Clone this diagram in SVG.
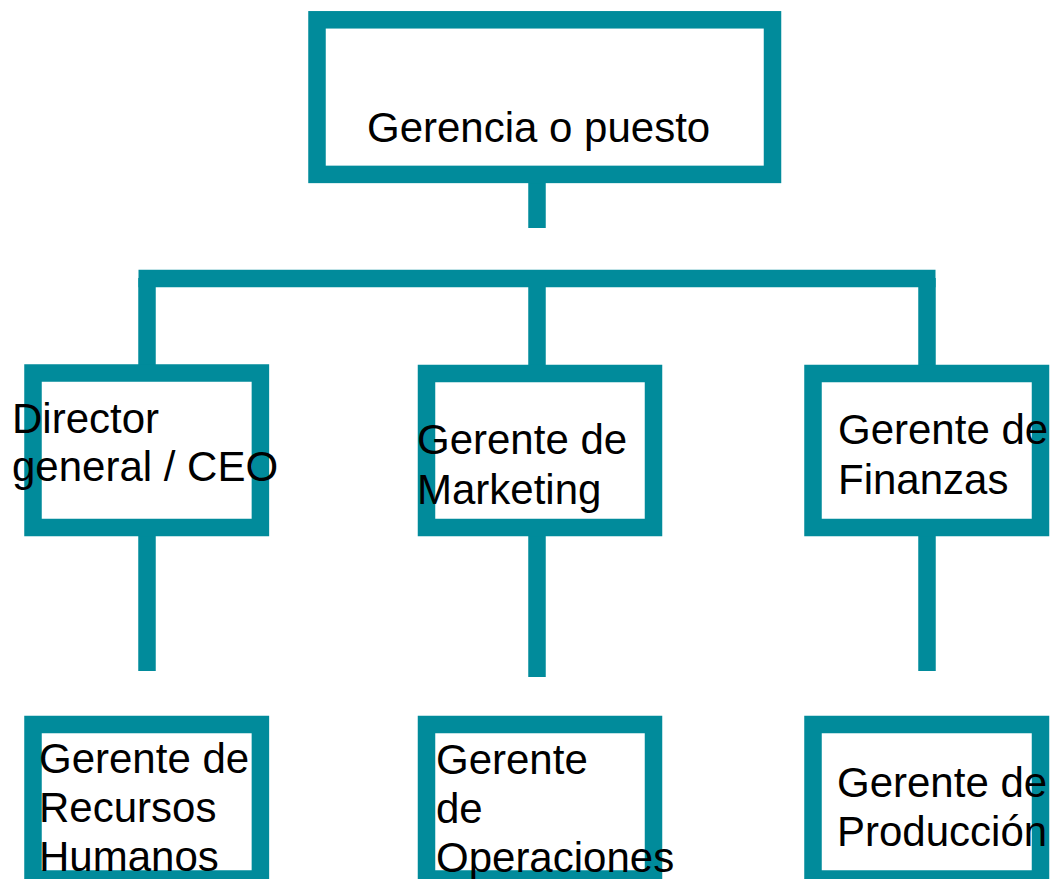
<svg xmlns="http://www.w3.org/2000/svg" width="1054" height="879" viewBox="0 0 1054 879">
<style>
.box{fill:#ffffff;stroke:#018B9B;stroke-width:17.5}
.con{stroke:#018B9B;stroke-width:17.5;fill:none;stroke-linecap:butt}
.t{font-family:"Liberation Sans",Arial,Helvetica,sans-serif;font-size:42px;fill:#000000}
</style>
<rect width="1054" height="879" fill="#ffffff"/>
<g id="connectors">
<line class="con" x1="537" y1="182" x2="537" y2="228"/>
<line class="con" x1="138.5" y1="278.5" x2="935.5" y2="278.5"/>
<line class="con" x1="147" y1="278" x2="147" y2="366"/>
<line class="con" x1="537" y1="278" x2="537" y2="366"/>
<line class="con" x1="927" y1="278" x2="927" y2="366"/>
<line class="con" x1="147" y1="535" x2="147" y2="671"/>
<line class="con" x1="537" y1="535" x2="537" y2="677"/>
<line class="con" x1="927" y1="535" x2="927" y2="671"/>
</g>
<g id="node-gerencia">
<rect class="box" x="317" y="19.8" width="455.5" height="154.6"/>
<text class="t" x="367" y="142">Gerencia o puesto</text>
</g>
<g id="node-director">
<rect class="box" x="33" y="373" width="227.4" height="154.5"/>
<text class="t" x="12" y="433"><tspan x="12">Director</tspan><tspan x="12" dy="48">general / CEO</tspan></text>
</g>
<g id="node-marketing">
<rect class="box" x="426.5" y="373.5" width="227" height="154"/>
<text class="t" x="417" y="454"><tspan x="417">Gerente de</tspan><tspan x="417" dy="50">Marketing</tspan></text>
</g>
<g id="node-finanzas">
<rect class="box" x="813" y="373.5" width="227.5" height="154"/>
<text class="t" x="838" y="443.5"><tspan x="838">Gerente de</tspan><tspan x="838" dy="50">Finanzas</tspan></text>
</g>
<g id="node-rrhh">
<rect class="box" x="33" y="724.5" width="227.4" height="154.5"/>
<text class="t" x="39" y="773"><tspan x="39">Gerente de</tspan><tspan x="39" dy="49">Recursos</tspan><tspan x="39" dy="49">Humanos</tspan></text>
</g>
<g id="node-operaciones">
<rect class="box" x="426.5" y="724.5" width="227" height="154.5"/>
<text class="t" x="436" y="773.5"><tspan x="436">Gerente</tspan><tspan x="436" dy="49">de</tspan><tspan x="436" dy="49">Operaciones</tspan></text>
</g>
<g id="node-produccion">
<rect class="box" x="813" y="724.5" width="227.5" height="154.5"/>
<text class="t" x="837" y="797"><tspan x="837">Gerente de</tspan><tspan x="837" dy="49">Producción</tspan></text>
</g>
</svg>
